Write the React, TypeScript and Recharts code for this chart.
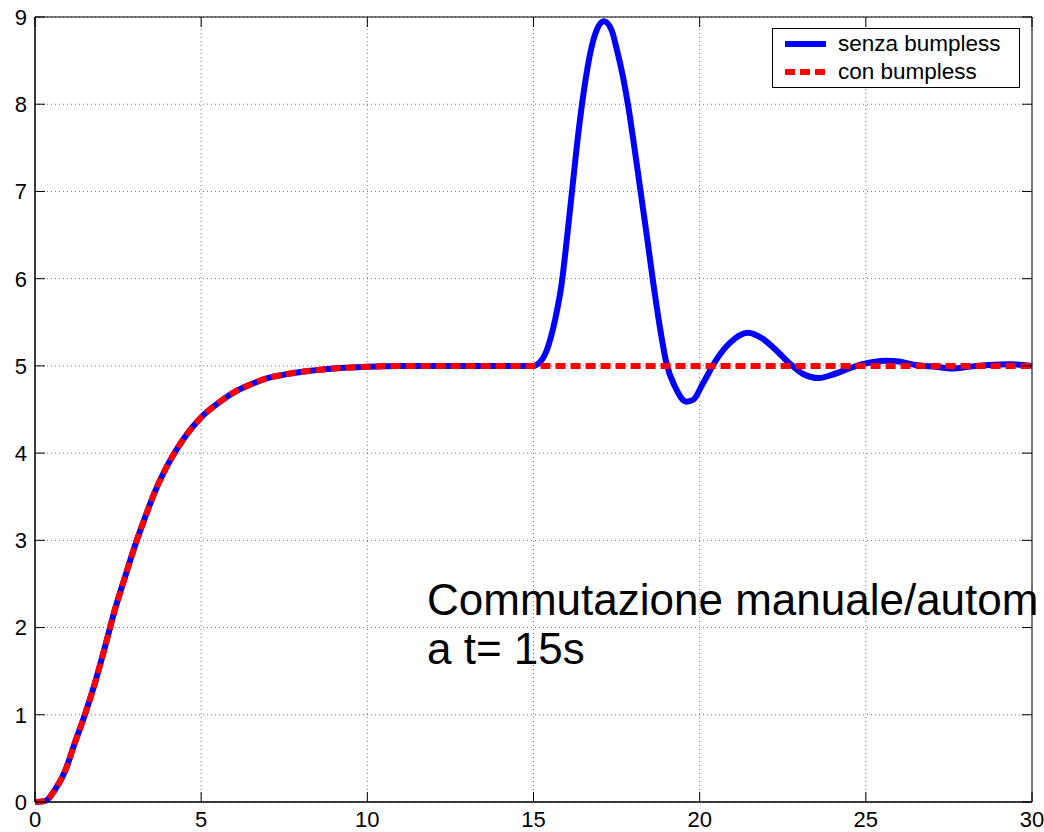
import {
  LineChart,
  Line,
  XAxis,
  YAxis,
  CartesianGrid,
  Legend,
  ReferenceArea,
} from "recharts";

// step response, shared by both runs until the switch at t = 15 s
const riseTime = [
  0, 0.3, 0.6, 0.9, 1.2, 1.5, 1.8, 2.1, 2.4, 2.7, 3.0, 3.3, 3.6, 4.0, 4.5, 5.0,
  5.5, 6.0, 6.5, 7.0, 7.5, 8.0, 9.0, 10, 11, 12, 13, 14, 15,
];
const riseValues = [
  0, 0.01, 0.14, 0.35, 0.68, 1.0, 1.36, 1.77, 2.2, 2.57, 2.93, 3.25, 3.55, 3.87,
  4.18, 4.41, 4.57, 4.7, 4.79, 4.86, 4.9, 4.93, 4.97, 4.99, 5.0, 5.0, 5.0, 5.0,
  5.0,
];

// without bumpless transfer: bump after the switch
const switchTime = [
  15.13, 15.4, 15.65, 15.85, 16.0, 16.15, 16.35, 16.55, 16.75, 16.95, 17.12,
  17.35, 17.5, 17.7, 17.85, 18.0, 18.2, 18.4, 18.6, 18.8, 19.0, 19.26, 19.6,
  19.8, 20.1, 20.5, 20.9, 21.45, 21.9, 22.3, 22.7, 23.1, 23.6, 24.0, 24.5,
  24.9, 25.6, 26.0, 26.5, 27.1, 27.6, 28.1, 28.7, 29.3, 30,
];
const senzaValues = [
  5.02, 5.18, 5.53, 5.95, 6.44, 6.97, 7.67, 8.24, 8.66, 8.89, 8.95, 8.85, 8.64,
  8.3, 7.98, 7.6, 7.06, 6.52, 5.96, 5.45, 5.03, 4.76, 4.59, 4.61, 4.8, 5.07,
  5.26, 5.38, 5.31, 5.18, 5.03, 4.91, 4.86, 4.9, 4.97, 5.02, 5.06, 5.05, 5.01,
  4.99, 4.97, 4.99, 5.01, 5.02, 5.0,
];

// with bumpless transfer: stays at the set point
const conTime = [30];
const conValues = [5.0];

const xTicks = [0, 5, 10, 15, 20, 25, 30];
const yTicks = [0, 1, 2, 3, 4, 5, 6, 7, 8, 9];

const senzaData = [
  ...riseTime.map((t, i) => ({ t, y: riseValues[i] })),
  ...switchTime.map((t, i) => ({ t, y: senzaValues[i] })),
];
const conData = [
  ...riseTime.map((t, i) => ({ t, y: riseValues[i] })),
  ...conTime.map((t, i) => ({ t, y: conValues[i] })),
];

const FONT = '"Liberation Sans", Arial, sans-serif';
const W = 1044;
const H = 832;
// plot box
const PL = 35;
const PR = 1032;
const PT = 17;
const PB = 802;
const TICK = 10;

const legendItems = [
  { name: "senza bumpless", color: "#0000ff", dash: undefined },
  { name: "con bumpless", color: "#ff0000", dash: "10 5" },
];

const YTick = (props: any) => {
  const { y, payload } = props;
  return (
    <g>
      <line x1={PL} x2={PL + TICK} y1={y} y2={y} stroke="#000" />
      <line x1={PR - TICK} x2={PR} y1={y} y2={y} stroke="#000" />
      <text
        x={PL - 8}
        y={y}
        dy="0.36em"
        textAnchor="end"
        fontSize={22}
        fontFamily={FONT}
        fill="#000"
      >
        {payload.value}
      </text>
    </g>
  );
};

const XTick = (props: any) => {
  const { x, payload } = props;
  return (
    <g>
      <line x1={x} x2={x} y1={PB - TICK} y2={PB} stroke="#000" />
      <line x1={x} x2={x} y1={PT} y2={PT + TICK} stroke="#000" />
      <text
        x={x}
        y={PB + 17}
        dy="0.36em"
        textAnchor="middle"
        fontSize={22}
        fontFamily={FONT}
        fill="#000"
      >
        {payload.value}
      </text>
    </g>
  );
};

const LegendBox = () => (
  <div
    style={{
      width: 248,
      height: 60,
      boxSizing: "border-box",
      border: "1px solid #000",
      background: "#fff",
      paddingTop: 1,
      fontFamily: FONT,
      fontSize: 22.5,
      color: "#000",
    }}
  >
    {legendItems.map((item) => (
      <div
        key={item.name}
        style={{ height: 28, display: "flex", alignItems: "center" }}
      >
        <svg width={41} height={8} style={{ marginLeft: 12 }}>
          <line
            x1={0}
            x2={41}
            y1={4}
            y2={4}
            stroke={item.color}
            strokeWidth={6}
            strokeDasharray={item.dash}
          />
        </svg>
        <span style={{ marginLeft: 12, lineHeight: "28px" }}>{item.name}</span>
      </div>
    ))}
  </div>
);

export default function App() {
  return (
    <div
      style={{
        position: "relative",
        width: W,
        height: H,
        overflow: "hidden",
        background: "#fff",
      }}
    >
      <style>{"body{margin:0}"}</style>
      <LineChart
        width={W}
        height={H}
        margin={{ top: PT, right: W - PR, left: 0, bottom: 0 }}
      >
        <CartesianGrid stroke="#777" strokeDasharray="1 3" />
        <XAxis
          dataKey="t"
          type="number"
          domain={[0, 30]}
          ticks={xTicks}
          height={H - PB}
          axisLine={{ stroke: "#000" }}
          tickLine={false}
          tick={<XTick />}
        />
        <YAxis
          type="number"
          domain={[0, 9]}
          ticks={yTicks}
          width={PL}
          axisLine={{ stroke: "#000" }}
          tickLine={false}
          tick={<YTick />}
        />
        <ReferenceArea
          x1={0}
          x2={30}
          y1={0}
          y2={9}
          fill="none"
          stroke="#000"
          strokeWidth={1}
        />
        <Legend
          layout="vertical"
          align="center"
          verticalAlign="middle"
          content={<LegendBox />}
          wrapperStyle={{ left: 772, top: 28, width: 248, height: 60 }}
        />
        <Line
          data={senzaData}
          dataKey="y"
          name="senza bumpless"
          type="monotone"
          stroke="#0000ff"
          strokeWidth={6}
          dot={false}
          isAnimationActive={false}
        />
        <Line
          data={conData}
          dataKey="y"
          name="con bumpless"
          type="monotone"
          stroke="#ff0000"
          strokeWidth={6}
          strokeDasharray="10 5"
          dot={false}
          isAnimationActive={false}
        />
      </LineChart>
      <div
        style={{
          position: "absolute",
          left: 427,
          top: 575,
          fontFamily: FONT,
          fontSize: 44,
          lineHeight: "49px",
          color: "#000",
          whiteSpace: "nowrap",
        }}
      >
        Commutazione manuale/autom
        <br />a t= 15s
      </div>
    </div>
  );
}
